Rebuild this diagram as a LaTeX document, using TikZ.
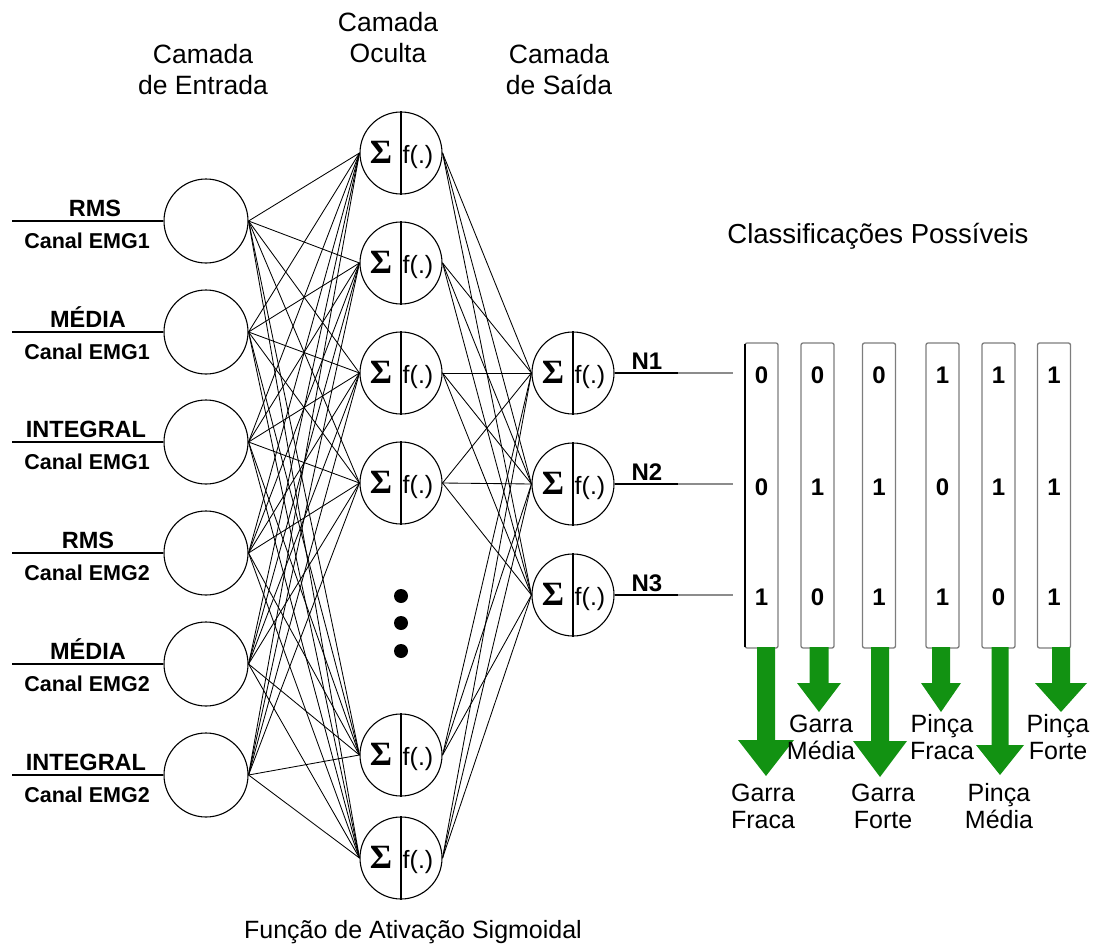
\documentclass[tikz,border=0pt]{standalone}
\usepackage{fontspec}
\setmainfont{Liberation Sans}
\newfontfamily\sigmafont{Liberation Serif}

\definecolor{arrowgreen}{RGB}{18,146,18}
\definecolor{bargray}{RGB}{125,125,125}
\definecolor{leadgray}{RGB}{140,140,140}

\tikzset{
  inp/.style={circle,draw,line width=1.1pt,minimum size=84pt,inner sep=0pt},
  neuron/.style={circle,draw,line width=1.1pt,minimum size=82pt,inner sep=0pt},
  link/.style={line width=0.85pt},
  feed/.style={line width=1.2pt},
  lead/.style={line width=1.2pt,draw=leadgray},
  bar/.style={draw=bargray,line width=1.3pt,rounded corners=2pt,minimum width=33pt,minimum height=305pt,inner sep=0pt},
  title/.style={font=\fontsize{26.5}{30}\selectfont,anchor=base,inner sep=0pt},
  heading/.style={font=\fontsize{27.5}{30}\selectfont,anchor=base,inner sep=0pt},
  note/.style={font=\fontsize{25}{30}\selectfont,anchor=base,inner sep=0pt},
  caption/.style={font=\fontsize{25}{28}\selectfont,anchor=base,inner sep=0pt},
  featlbl/.style={font=\bfseries\fontsize{23.5}{26}\selectfont,anchor=base,inner sep=0pt},
  chanlbl/.style={font=\bfseries\fontsize{21.5}{24}\selectfont,anchor=base,inner sep=0pt},
  outlbl/.style={font=\bfseries\fontsize{24}{26}\selectfont,anchor=base,inner sep=0pt},
  bit/.style={font=\bfseries\fontsize{24}{26}\selectfont,inner sep=0pt},
  sig/.style={font=\sigmafont\bfseries\fontsize{34}{36}\selectfont,inner sep=0pt},
  fx/.style={font=\fontsize{25}{28}\selectfont,inner sep=0pt},
  dot/.style={circle,fill,minimum size=14pt,inner sep=0pt}
}

% divider, summation sign and activation inside a neuron
\newcommand\neuronparts[1]{%
  \draw[line width=1.1pt] (#1.north) -- (#1.south);
  \node[sig] at ([shift={(-20,-1)}]#1.center) {Σ};
  \node[fx] at ([shift={(17,4)}]#1.center) {f(.)};
}

% block arrow: centre x, top y, head base y, tip y, half shaft, half head
\newcommand\greenarrow[6]{%
  \fill[arrowgreen] (#1-#5,#2) -- (#1+#5,#2) -- (#1+#5,#3) -- (#1+#6,#3)
    -- (#1,#4) -- (#1-#6,#3) -- (#1-#5,#3) -- cycle;
}

\begin{document}
\begin{tikzpicture}[x=1pt,y=-1pt]
\useasboundingbox (0,0) rectangle (1093,950);

% layer titles
\node[title] (tin1) at (203,64) {Camada};
\node[title] (tin2) at (203,95) {de Entrada};
\node[title] (thid1) at (388,32) {Camada};
\node[title] (thid2) at (388,63) {Oculta};
\node[title] (tout1) at (559,64) {Camada};
\node[title] (tout2) at (559,95) {de Saída};

% input layer
\foreach \k/\y in {1/221,2/332,3/442,4/553,5/664,6/775}{
  \node[inp] (i\k) at (206,\y) {};
  \coordinate (s\k) at (12,\y);
  \draw[feed] (s\k) -- (i\k.west);
}
\node[featlbl] (f1) at (95,216) {RMS};
\node[chanlbl] (c1) at (87,248) {Canal EMG1};
\node[featlbl] (f2) at (88,327) {MÉDIA};
\node[chanlbl] (c2) at (87,359) {Canal EMG1};
\node[featlbl] (f3) at (86,437) {INTEGRAL};
\node[chanlbl] (c3) at (87,469) {Canal EMG1};
\node[featlbl] (f4) at (88,548) {RMS};
\node[chanlbl] (c4) at (87,580) {Canal EMG2};
\node[featlbl] (f5) at (88,659) {MÉDIA};
\node[chanlbl] (c5) at (87,691) {Canal EMG2};
\node[featlbl] (f6) at (86,770) {INTEGRAL};
\node[chanlbl] (c6) at (87,802) {Canal EMG2};

% hidden layer
\foreach \k/\y in {1/153,2/263,3/373,4/483,5/755,6/858}{
  \node[neuron] (h\k) at (401,\y) {};
}
\node[dot] (d1) at (401,596) {};
\node[dot] (d2) at (401,623) {};
\node[dot] (d3) at (401,651) {};

% output layer
\foreach \k/\y in {1/373,2/484,3/595}{
  \node[neuron] (o\k) at (573,\y) {};
}

% connections
\foreach \a in {1,...,6}{
  \foreach \b in {1,...,6}{
    \draw[link] (i\a.east) -- (h\b.west);
  }
}
\foreach \a in {1,...,6}{
  \foreach \b in {1,2,3}{
    \draw[link] (h\a.east) -- (o\b.west);
  }
}

% neuron interiors drawn over the links
\foreach \k in {1,...,6}{ \neuronparts{h\k} }
\foreach \k in {1,2,3}{ \neuronparts{o\k} }

% network outputs
\foreach \k/\y in {1/373,2/484,3/595}{
  \coordinate (t\k) at (678,\y);
  \coordinate (g\k) at (733,\y);
  \draw[feed] (o\k.east) -- (t\k);
  \draw[lead] (t\k) -- (g\k);
  \node[outlbl] (n\k) at (647,\y-4) {N\k};
}

% possible classifications
\node[heading] (cls) at (878,243) {Classificações Possíveis};
\foreach \k/\x/\p/\q/\r in {1/761.5/0/0/1, 2/817.5/0/1/0, 3/879/0/1/1,
                            4/942.5/1/0/1, 5/998.5/1/1/0, 6/1054/1/1/1}{
  \node[bar] (b\k) at (\x,495.5) {};
  \node[bit] (p\k) at (\x,375) {\p};
  \node[bit] (q\k) at (\x,487) {\q};
  \node[bit] (r\k) at (\x,597) {\r};
}
\draw[line width=1.3pt] ([shift={(0.6,2)}]b1.north west) -- ([shift={(0.6,-2)}]b1.south west);

% class arrows
\greenarrow{766}{647}{740}{776}{9}{28}
\greenarrow{819}{647}{683}{712}{9.5}{22}
\greenarrow{880}{647}{741}{777}{9}{27}
\greenarrow{941}{647}{683}{712}{9}{20}
\greenarrow{1000}{647}{745}{775}{8.5}{24}
\greenarrow{1061}{647}{683}{712}{9}{26}

% class names
\node[caption] (a2) at (821,732) {Garra};
\node[caption] (a2b) at (821,759) {Média};
\node[caption] (a4) at (942,732) {Pinça};
\node[caption] (a4b) at (942,759) {Fraca};
\node[caption] (a6) at (1058,732) {Pinça};
\node[caption] (a6b) at (1058,759) {Forte};
\node[caption] (a1) at (763,801) {Garra};
\node[caption] (a1b) at (763,828) {Fraca};
\node[caption] (a3) at (883,801) {Garra};
\node[caption] (a3b) at (883,828) {Forte};
\node[caption] (a5) at (999,801) {Pinça};
\node[caption] (a5b) at (999,828) {Média};

% activation note
\node[note] (act) at (413,938) {Função de Ativação Sigmoidal};
\end{tikzpicture}
\end{document}
